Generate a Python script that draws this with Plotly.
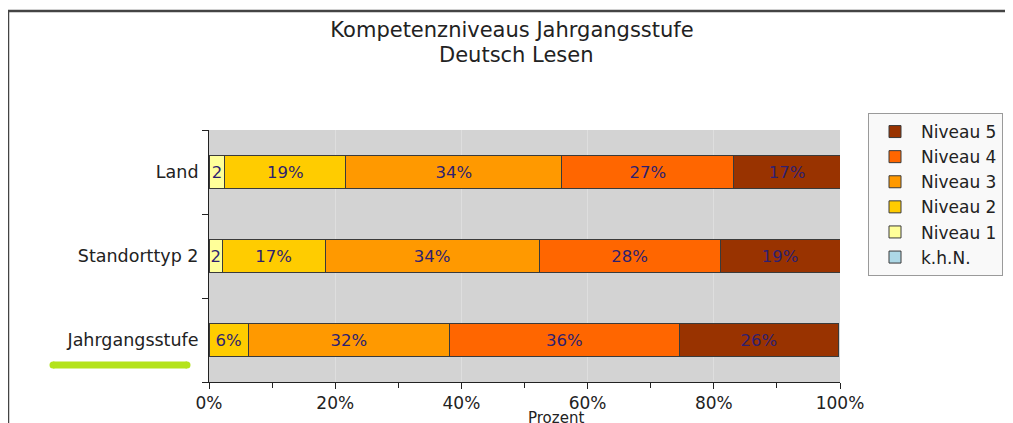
import plotly.graph_objects as go

categories = ["Jahrgangsstufe", "Standorttyp 2", "Land"]
series_names = ["k.h.N.", "Niveau 1", "Niveau 2", "Niveau 3", "Niveau 4", "Niveau 5"]
colors = ["#add8e6", "#ffff99", "#ffcc00", "#ff9900", "#ff6600", "#993300"]

khn = [0, 0, 0]
niveau1 = [0, 2.1, 2.5]
niveau2 = [6.2, 16.3, 19.2]
niveau3 = [31.9, 33.9, 34.2]
niveau4 = [36.4, 28.7, 27.3]
niveau5 = [25.3, 19.0, 16.8]

label_khn = ["", "", ""]
label_n1 = ["", "2", "2"]
label_n2 = ["6%", "17%", "19%"]
label_n3 = ["32%", "34%", "34%"]
label_n4 = ["36%", "28%", "27%"]
label_n5 = ["26%", "19%", "17%"]

x_ticks = [0, 20, 40, 60, 80, 100]
x_ticklabels = ["0%", "20%", "40%", "60%", "80%", "100%"]

title_line1 = "Kompetenzniveaus Jahrgangsstufe"
title_line2 = "Deutsch Lesen"
x_title = "Prozent"

values = [khn, niveau1, niveau2, niveau3, niveau4, niveau5]
labels = [label_khn, label_n1, label_n2, label_n3, label_n4, label_n5]

FONT = "DejaVu Sans"
TXT = "#222222"

fig = go.Figure()
for name, vals, txt, col in zip(series_names, values, labels, colors):
    fig.add_trace(go.Bar(
        y=categories, x=vals, name=name, orientation="h",
        text=txt, textposition="inside", insidetextanchor="middle",
        textangle=0, textfont=dict(family=FONT, size=16.5, color="#2e1f70"),
        marker=dict(color=col, line=dict(color="#3a3a3a", width=1)),
        width=0.4, legendgroup=name, cliponaxis=False,
        hoverinfo="skip",
    ))

# page has an 8px body margin: screen coordinate = figure coordinate + 8
OFF = 8
SW, SH = 1013, 423
W, H = SW - OFF, SH - OFF
PL, PR, PT, PB = 209, 840, 130, 382  # plot area in screen pixels
L, R, T, B = PL - OFF, W - (PR - OFF), PT - OFF, H - (PB - OFF)
pw, ph = W - L - R, H - T - B

def px(sx):
    return (sx - PL) / pw

def py(sy):
    return (PB - sy) / ph

green = "#b4e31a"
shapes = [
    dict(type="line", xref="paper", yref="paper", x0=px(7), x1=px(SW + 10), y0=py(11), y1=py(11),
         line=dict(color="#444444", width=2.5)),
    dict(type="line", xref="paper", yref="paper", x0=px(8), x1=px(8), y0=py(10), y1=py(SH + 10),
         line=dict(color="#444444", width=2.5)),
    dict(type="line", xref="paper", yref="paper", x0=px(53), x1=px(187), y0=py(365), y1=py(365),
         line=dict(color=green, width=7)),
]
for cx in (53, 187):
    shapes.append(dict(type="circle", xref="paper", yref="paper",
                       xsizemode="pixel", ysizemode="pixel",
                       xanchor=px(cx), yanchor=py(365), x0=-3.5, x1=3.5, y0=-3.5, y1=3.5,
                       fillcolor=green, line=dict(width=0)))

fig.update_layout(
    width=W, height=H,
    margin=dict(l=L, r=R, t=T, b=B, pad=0, autoexpand=False),
    barmode="stack",
    paper_bgcolor="white",
    plot_bgcolor="#d3d3d3",
    font=dict(family=FONT, size=17, color=TXT),
    title=dict(text=title_line1,
               x=(512 - OFF) / W, xanchor="center", y=1 - (30 - OFF) / H, yanchor="middle",
               font=dict(family=FONT, size=21, color=TXT)),
    showlegend=True,
    legend=dict(traceorder="reversed", x=px(868), y=py(113), xanchor="left", yanchor="top",
                xref="paper", yref="paper",
                bgcolor="#f9f9f9", bordercolor="#9a9a9a", borderwidth=1,
                font=dict(family=FONT, size=17, color=TXT),
                tracegroupgap=3, itemwidth=42),
    uniformtext=dict(minsize=16.5, mode="show"),
    shapes=shapes,
    annotations=[
        dict(text=title_line2, xref="paper", yref="paper", x=px(516), y=py(55),
             xanchor="center", yanchor="middle", showarrow=False,
             font=dict(family=FONT, size=21, color=TXT)),
        dict(text=x_title, xref="x", yref="paper", x=55, y=py(418),
             yanchor="middle", xanchor="center", showarrow=False,
             font=dict(family=FONT, size=15, color=TXT)),
    ],
)

fig.update_xaxes(range=[0, 100], tickvals=x_ticks, ticktext=x_ticklabels,
                 ticks="outside", ticklen=6, tickcolor=TXT, tickwidth=1,
                 showline=True, linecolor=TXT, linewidth=1,
                 showgrid=True, gridcolor="#dedede", gridwidth=1, zeroline=False,
                 minor=dict(dtick=10, tick0=10, ticks="outside", ticklen=5, tickcolor=TXT,
                            showgrid=False),
                 fixedrange=True)
fig.update_yaxes(range=[-0.5, 2.5], categoryorder="array", categoryarray=categories,
                 ticks="outside", tickson="boundaries", ticklen=6, tickcolor=TXT,
                 showline=True, linecolor=TXT, linewidth=1,
                 showgrid=False, zeroline=False, ticklabelstandoff=6,
                 tickfont=dict(family=FONT, size=17.5, color=TXT),
                 fixedrange=True)

fig.write_html("out.html")
